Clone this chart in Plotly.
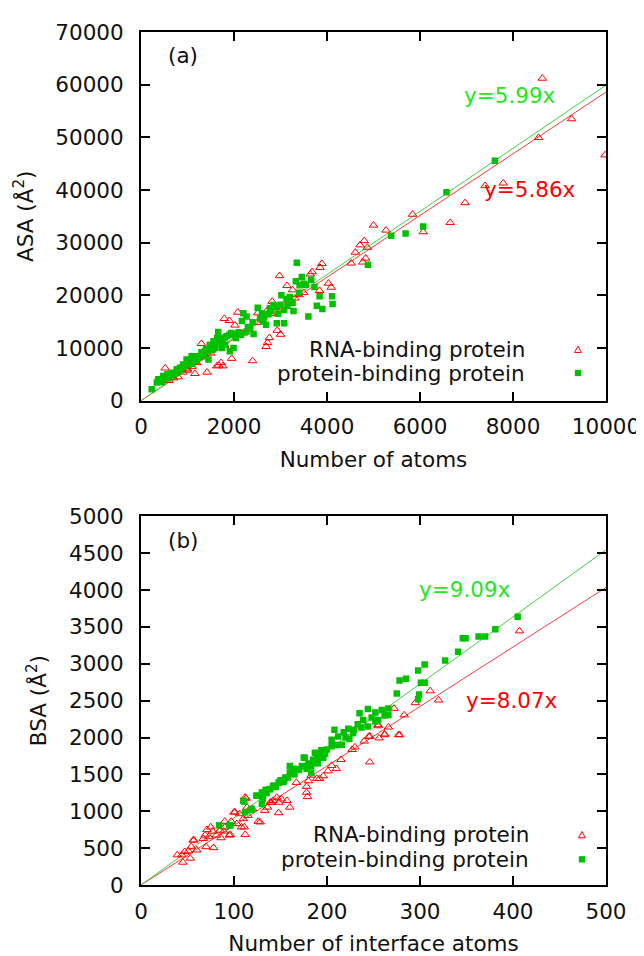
import plotly.graph_objects as go

# ---------------- data: panel (a) ----------------
rna_atoms = [8630, 9260, 8550, 9980, 7400, 7790, 6970, 6650, 5840, 6070, 5000, 5270, 4800, 4710, 4870, 4610,
             4830, 4770, 4520, 3890, 3850, 3680, 3640, 2980, 3140, 3260, 4030, 4090, 3840, 3310, 2820, 2850,
             2510, 2080, 1790, 1900, 2020, 2930, 3000, 2760, 2720, 2690, 1300, 2400, 1950, 1720, 1670, 1760,
             1630, 1420, 1160, 990, 520, 600, 800, 1000, 1200, 1400, 1500, 2200, 2500, 2600, 2800, 3000,
             3200, 3400, 3500, 2300, 1800, 700, 900, 1100, 2700]
rna_asa = [61200, 53500, 49950, 46640, 40800, 41300, 37560, 33800, 35370, 32050, 33300, 32360, 30360, 29550, 29100, 28170,
           27040, 26290, 26100, 26030, 25270, 24460, 24020, 23710, 21830, 21020, 22280, 21520, 20900, 19460, 18830, 17890,
           16640, 16770, 15580, 15200, 14330, 13330, 12580, 11950, 11010, 10260, 10830, 7560, 8010, 7200, 6720, 6570,
           6570, 5390, 5140, 5770, 6180, 3800, 4500, 6000, 7200, 8300, 9000, 12800, 14800, 15600, 16500, 17600,
           18800, 20100, 20500, 13600, 10500, 4300, 5400, 6500, 17000]

ppi_atoms = [7610, 6570, 6070, 5690, 5380, 4880, 3350, 3330, 3460, 3660, 3730, 3410, 3840, 4110, 4120, 3780,
             3900, 3600, 3260, 3130, 3020, 3080, 3280, 2920, 2850, 2770, 2510, 2560, 2630, 2690, 2920, 2740,
             3080, 2200, 2270, 2170, 2350, 2420, 2270, 1940, 1840, 2040, 1990, 1910, 1660, 1640, 1560, 1480,
             1590, 1380, 1310, 1200, 1090, 980, 1020, 910, 840, 770, 660, 570, 480, 370, 340, 230, 1450, 1740,
             1810, 400, 450, 520, 600, 650, 700, 750, 800, 850, 900, 950, 1000, 1050, 1100, 1150, 1200, 1250,
             1300, 1350, 1400, 1450, 1500, 1550, 1600, 1700, 1750, 1800, 1900, 2000, 2100, 2150, 2300, 2400,
             2600, 2650, 2800, 2950, 3000, 3150, 3200, 3400, 3500, 3550]
ppi_asa = [45570, 39560, 33050, 31740, 31300, 25790, 26170, 22660, 23480, 22970, 21600, 21910, 19840, 19840, 18340, 18030,
           17400, 15960, 18590, 19280, 20030, 17220, 17030, 17840, 18150, 17530, 17650, 15650, 15020, 14400, 14710, 16400,
           14710, 16590, 15960, 15150, 13900, 12650, 13150, 12830, 12210, 11890, 10020, 9390, 13020, 11890, 11270, 10640,
           10020, 9390, 8760, 8450, 8450, 7830, 7010, 6890, 6260, 5950, 5320, 5010, 4700, 4070, 3440, 2190, 7830, 10020,
           10640, 3800, 3500, 4200, 4300, 4800, 5000, 5300, 5600, 5900, 6400, 6600, 7100, 7400, 7000, 8000, 7600, 8200,
           9200, 8600, 9800, 9500, 10200, 9700, 10600, 11200, 11800, 12000, 12500, 12600, 13000, 12500, 14000, 14900,
           16600, 16000, 17000, 16500, 18200, 18000, 19700, 20500, 22200, 22000]

# ---------------- data: panel (b) ----------------
rna_iface = [407, 320, 311, 295, 283, 278, 272, 266, 262, 256, 246, 255, 246, 227, 210, 201, 196, 192, 189, 183,
             180, 178, 178, 179, 167, 160, 157, 151, 148, 146, 142, 139, 136, 133, 148, 128, 126, 112, 114, 106,
             111, 112, 110, 103, 101, 97, 95, 90, 90, 85, 81, 78, 75, 71, 70, 69, 67, 57, 60, 54, 51, 47, 45, 44,
             39, 53, 56, 77, 73, 86, 89, 96, 100, 108, 113, 115, 120, 140, 255, 262, 245, 277, 205, 215, 230, 240]
rna_bsa = [3445, 2507, 2632, 2471, 2305, 2037, 2395, 2140, 2037, 1993, 2015, 2158, 1667, 1836, 1577, 1546, 1479, 1443, 1443, 1488,
           1412, 1336, 1256, 1197, 1390, 1054, 1144, 1166, 1121, 1188, 1144, 1121, 1054, 1010, 978, 853, 862, 1188, 1054, 965,
           786, 684, 898, 831, 987, 862, 675, 862, 786, 742, 675, 505, 786, 750, 518, 675, 630, 608, 474, 518, 460, 451, 308, 407,
           407, 362, 608, 729, 653, 639, 729, 684, 987, 786, 1175, 943, 1032, 1121, 2172, 2047, 2015, 2037, 1620, 1700, 1870, 1950]

ppi_iface = [405, 381, 370, 363, 349, 346, 341, 327, 305, 298, 285, 278, 305, 301, 275, 299, 298, 266, 259, 266,
             252, 244, 235, 239, 252, 255, 244, 237, 229, 223, 218, 224, 216, 208, 212, 205, 205, 200, 194, 192,
             196, 187, 189, 183, 180, 175, 178, 183, 173, 164, 160, 160, 155, 153, 148, 142, 139, 134, 130, 124,
             131, 130, 119, 110, 112, 96, 84, 95, 111, 118, 125, 131, 135, 138, 143, 149, 154, 158, 163, 168,
             176, 179, 185, 190, 145, 150, 165, 170, 185, 190, 198, 210, 220, 228, 233, 248, 262]
ppi_bsa = [3637, 3467, 3369, 3369, 3347, 3347, 3163, 3043, 2989, 2909, 2797, 2775, 2743, 2743, 2596, 2583, 2520, 2395, 2372, 2305,
           2341, 2386, 2328, 2238, 2216, 2238, 2149, 2136, 2104, 2118, 2073, 1979, 1903, 2104, 2015, 1970, 1881, 1836, 1827, 1769,
           1725, 1792, 1702, 1613, 1649, 1725, 1577, 1524, 1613, 1577, 1613, 1524, 1457, 1398, 1390, 1345, 1300, 1291, 1256, 1211,
           1166, 1099, 1032, 1144, 987, 809, 809, 808, 1130, 1019, 1211, 1220, 1246, 1300, 1345, 1390, 1412, 1457, 1568, 1568,
           1725, 1613, 1657, 1769, 1330, 1420, 1500, 1560, 1700, 1650, 1780, 1900, 2000, 2060, 2180, 2270, 2300]

# fit slopes (y = k x)
slopes_a = {"rna": 5.86, "ppi": 5.99}
slopes_b = {"rna": 8.07, "ppi": 9.09}
xmax_a = 10000
xmax_b = 500

series_names = ["RNA-binding protein", "protein-binding protein"]

RED = "#ff0000"
GREEN = "#00c000"
RED_LINE = "#ff3a3a"
GREEN_LINE = "#3fd03f"
LABEL_GREEN = "#1ee81e"
FONT = "DejaVu Sans"
FS = 21.5

fig = go.Figure()

def add_panel(xa, ya, rx, ry, gx, gy, k_r, k_g, xmax):
    fig.add_trace(go.Scatter(x=[0, xmax], y=[0, k_r * xmax], mode="lines",
                             line=dict(color=RED_LINE, width=1), xaxis=xa, yaxis=ya,
                             showlegend=False, hoverinfo="skip"))
    fig.add_trace(go.Scatter(x=[0, xmax], y=[0, k_g * xmax], mode="lines",
                             line=dict(color=GREEN_LINE, width=1), xaxis=xa, yaxis=ya,
                             showlegend=False, hoverinfo="skip"))
    fig.add_trace(go.Scatter(x=rx, y=ry, mode="markers", name=series_names[0],
                             marker=dict(symbol="triangle-up-open", size=7.5, color=RED,
                                         line=dict(width=1, color=RED)),
                             xaxis=xa, yaxis=ya, showlegend=False))
    fig.add_trace(go.Scatter(x=gx, y=gy, mode="markers", name=series_names[1],
                             marker=dict(symbol="square", size=6.5, color=GREEN),
                             xaxis=xa, yaxis=ya, showlegend=False))

add_panel("x", "y", rna_atoms, rna_asa, ppi_atoms, ppi_asa,
          slopes_a["rna"], slopes_a["ppi"], xmax_a)
add_panel("x2", "y2", rna_iface, rna_bsa, ppi_iface, ppi_bsa,
          slopes_b["rna"], slopes_b["ppi"], xmax_b)

# The page body keeps its default 8px margin, so the figure is laid out 8px up/left.
OFF = 8
W, H = 644, 956
PL, PR, PT, PB = 141, 606, 24, 887     # plot frame in the page
A_BOT, B_TOP = 397, 514
L, R, T, B = PL - OFF, W - (PR - OFF), PT - OFF, H - (PB - OFF)
ph = PB - PT
dom_a = [(PB - A_BOT) / ph, 1.0]
dom_b = [0.0, (PB - B_TOP) / ph]

axis_common = dict(showline=True, linewidth=2, linecolor="black", mirror="allticks",
                   ticks="inside", ticklen=9, tickwidth=2, tickcolor="black",
                   showgrid=False, zeroline=False, tickformat="d",
                   tickfont=dict(family=FONT, size=FS, color="#111"))
xax = dict(ticklabelstandoff=6, **axis_common)
yax = dict(ticklabelstandoff=11, **axis_common)

fig.update_layout(
    width=W, height=H,
    margin=dict(l=L, r=R, t=T, b=B),
    paper_bgcolor="white", plot_bgcolor="white",
    font=dict(family=FONT, size=FS, color="#111"),
    xaxis=dict(domain=[0, 1], anchor="y", range=[0, 10000], dtick=2000,
               title=dict(text="Number of atoms", font=dict(size=FS), standoff=13), **xax),
    yaxis=dict(domain=dom_a, anchor="x", range=[0, 70000], dtick=10000,
               title=dict(text="ASA (Å<sup>2</sup>)", font=dict(size=FS), standoff=16), **yax),
    xaxis2=dict(domain=[0, 1], anchor="y2", range=[0, 500], dtick=100,
                title=dict(text="Number of interface atoms", font=dict(size=FS), standoff=13), **xax),
    yaxis2=dict(domain=dom_b, anchor="x2", range=[0, 5000], dtick=500,
                title=dict(text="BSA (Å<sup>2</sup>)", font=dict(size=FS), standoff=16), **yax),
)

ann = []
def txt(x, y, xr, yr, text, color="#111", xanchor="center"):
    ann.append(dict(x=x, y=y, xref=xr, yref=yr, text=text, showarrow=False,
                    xanchor=xanchor, yanchor="middle",
                    font=dict(size=FS, family=FONT, color=color)))

pw = PR - PL
ha = A_BOT - PT
hb = PB - B_TOP

# panel labels
txt((183 - PL) / pw, (A_BOT - 48) / ha, "x domain", "y domain", "(a)")
txt((183 - PL) / pw, (PB - 538) / hb, "x2 domain", "y2 domain", "(b)")
# fit labels
txt(7935, 57990, "x", "y", "y=%.2fx" % slopes_a["ppi"], LABEL_GREEN)
txt(8366, 40160, "x", "y", "y=%.2fx" % slopes_a["rna"], RED)
txt(348, 4008, "x2", "y2", "y=%.2fx" % slopes_b["ppi"], LABEL_GREEN)
txt(398.6, 2507, "x2", "y2", "y=%.2fx" % slopes_b["rna"], RED)
# legend texts (gnuplot style: text then symbol)
txt((527 - PL) / pw, (A_BOT - 345) / ha, "x domain", "y domain", series_names[0], xanchor="right")
txt((527 - PL) / pw, (A_BOT - 369) / ha, "x domain", "y domain", series_names[1], xanchor="right")
txt((531 - PL) / pw, (PB - 836) / hb, "x2 domain", "y2 domain", series_names[0], xanchor="right")
txt((531 - PL) / pw, (PB - 861) / hb, "x2 domain", "y2 domain", series_names[1], xanchor="right")
fig.update_layout(annotations=ann)

# legend symbols as shapes
shapes = []
def sym(xd, yd, cx, cy1, cy2, hgt):
    dx = 3.5 / pw
    dy = 3.2 / hgt
    shapes.append(dict(type="path", xref=xd, yref=yd,
                       path="M %f %f L %f %f L %f %f Z" % (cx - dx, cy1 - dy, cx + dx, cy1 - dy, cx, cy1 + dy),
                       line=dict(color=RED, width=1), fillcolor="rgba(0,0,0,0)"))
    sx = 3.2 / pw
    sy = 3.2 / hgt
    shapes.append(dict(type="rect", xref=xd, yref=yd, x0=cx - sx, x1=cx + sx, y0=cy2 - sy, y1=cy2 + sy,
                       line=dict(width=0), fillcolor=GREEN))

sym("x domain", "y domain", (578 - PL) / pw, (A_BOT - 345) / ha, (A_BOT - 369) / ha, ha)
sym("x2 domain", "y2 domain", (582 - PL) / pw, (PB - 836) / hb, (PB - 861) / hb, hb)
fig.update_layout(shapes=shapes)

fig.write_html("out.html", config={"displayModeBar": False},
               post_script=("document.documentElement.style.overflow='hidden';"
                            "document.body.style.overflow='hidden';"))
